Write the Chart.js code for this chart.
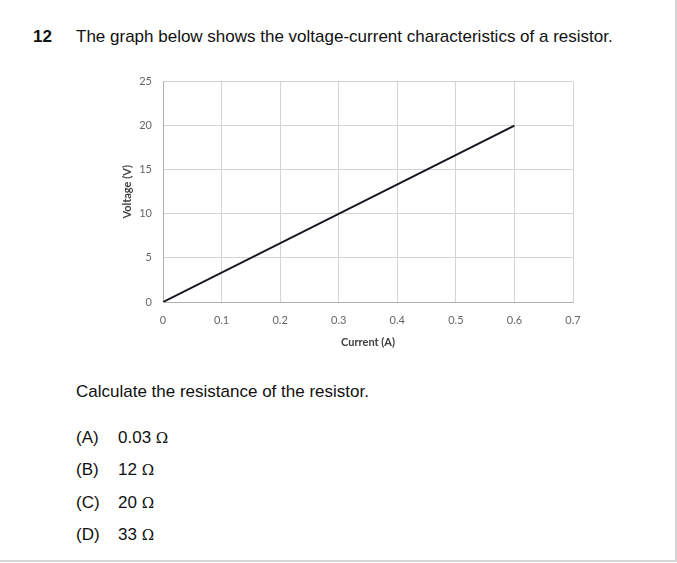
<!DOCTYPE html>
<html>
<head>
<meta charset="utf-8">
<script src="https://cdn.jsdelivr.net/npm/chart.js@4"></script>
<style>
  html, body { margin: 0; padding: 0; background: #fff; }
  #page { position: relative; width: 675px; height: 560px; border-right: 2px solid #d6d6d6; border-bottom: 2px solid #d6d6d6; font-family: "Liberation Sans", Arial, sans-serif; color: #111; }
  .t { position: absolute; white-space: nowrap; }
  .ohm { font-family: "DejaVu Serif", "Liberation Serif", serif; font-size: 15px; }
  #box { position: absolute; left: 100px; top: 64px; width: 500px; height: 297px; }
</style>
</head>
<body>
<div id="page">
  <div class="t" style="left:33px; top:27px; font-size:17px; font-weight:bold;">12</div>
  <div class="t" style="left:76px; top:27px; font-size:17px;">The graph below shows the voltage-current characteristics of a resistor.</div>
  <div id="box"><canvas id="graphe"></canvas></div>
  <div class="t" style="left:76px; top:382px; font-size:17px;">Calculate the resistance of the resistor.</div>
  <div id="choix"></div>
</div>
<script>
// donnees
const courant = [0, 0.6];      // A
const tension = [0, 20];       // V
const ticksX = [0, 0.1, 0.2, 0.3, 0.4, 0.5, 0.6, 0.7];
const ticksY = [0, 5, 10, 15, 20, 25];
const lettres = ['(A)', '(B)', '(C)', '(D)'];
const reponses = ['0.03', '12', '20', '33'];

// les choix de reponse
let html = '';
for (let i = 0; i < lettres.length; i++) {
  const top = 428 + i * 32.3;
  html += `<div class="t" style="left:76px; top:${top}px; font-size:17px;">${lettres[i]}</div>`;
  html += `<div class="t" style="left:118px; top:${top}px; font-size:17px;">${reponses[i]} <span class="ohm">Ω</span></div>`;
}
document.getElementById('choix').innerHTML = html;

const police = "Lato, 'Open Sans', sans-serif";
const ctx = document.getElementById('graphe').getContext('2d');
new Chart(ctx, {
  type: 'scatter',
  data: {
    datasets: [{
      data: courant.map((c, i) => ({ x: c, y: tension[i] })),
      showLine: true,
      borderColor: '#15151f',
      borderWidth: 2,
      pointRadius: 0,
      tension: 0
    }]
  },
  options: {
    responsive: true,
    maintainAspectRatio: false,
    animation: false,
    layout: { padding: { top: 6, right: 27, left: 0, bottom: 0 } },
    plugins: { legend: { display: false }, tooltip: { enabled: false } },
    scales: {
      x: {
        type: 'linear',
        min: 0, max: 0.7,
        afterBuildTicks: axis => { axis.ticks = ticksX.map(v => ({ value: v })); },
        afterFit: axis => { axis.height = 59; },
        grid: { color: '#d4d4d4', drawTicks: false },
        border: { color: '#b0b0b0' },
        ticks: { padding: 12, color: '#666', font: { family: police, size: 11 }, maxRotation: 0,
                 callback: v => String(v) },
        title: { display: true, text: 'Current (A)', color: '#404040', padding: { top: 4, bottom: 12 },
                 font: { family: police, size: 11, weight: 'bold' } }
      },
      y: {
        min: 0, max: 25,
        afterBuildTicks: axis => { axis.ticks = ticksY.map(v => ({ value: v })); },
        afterFit: axis => { axis.width = 63; },
        grid: { color: '#d4d4d4', drawTicks: false },
        border: { color: '#b0b0b0' },
        ticks: { padding: 11, color: '#666', font: { family: police, size: 11 } },
        title: { display: true, text: 'Voltage (V)', color: '#404040', padding: { top: 21, bottom: 0 },
                 font: { family: police, size: 11, weight: 'bold' } }
      }
    }
  }
});
</script>
</body>
</html>
